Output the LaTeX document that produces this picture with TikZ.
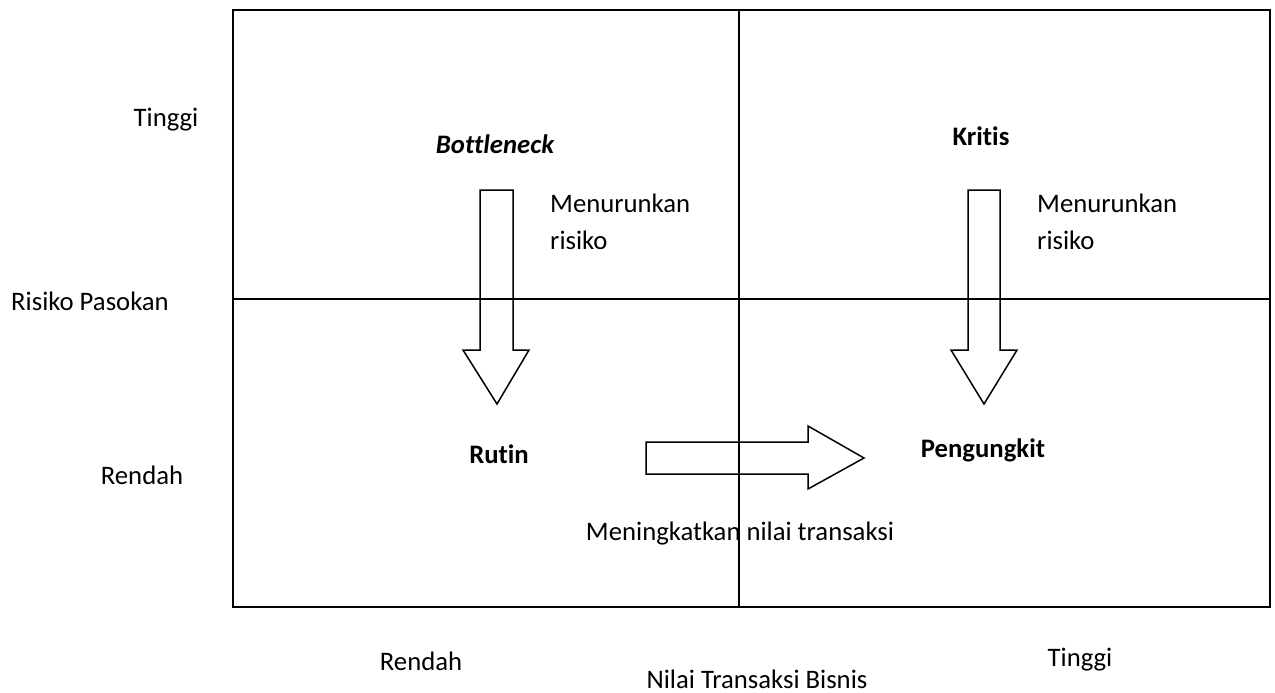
\documentclass[tikz,border=0pt]{standalone}
\usepackage{fontspec}
\setmainfont{Carlito}[Ligatures={NoCommon,NoDiscretionary,NoContextual}]
\begin{document}
\begin{tikzpicture}[x=1pt,y=-1pt,
  lbl/.style={inner sep=0pt,anchor=base,font=\fontsize{26.7}{31}\selectfont},
  lblL/.style={lbl,anchor=base west},
  bld/.style={lbl,font=\fontsize{26.7}{31}\selectfont\bfseries},
  frame/.style={line width=1.8pt,black},
  blockarrow/.style={line width=1.5pt,black,line join=miter}]
\useasboundingbox (0,0) rectangle (1275,693);
% frame and quadrant lines
\coordinate (tl) at (233,10);
\coordinate (br) at (1270,607);
\coordinate (vt) at (739,10);
\coordinate (vb) at (739,607);
\coordinate (hl) at (233,299);
\coordinate (hr) at (1270,299);
\draw[frame] (tl) rectangle (br);
\draw[frame] (vt) -- (vb);
\draw[frame] (hl) -- (hr);
% block arrows
\draw[blockarrow] (480,190) -- (513,190) -- (513,350) -- (529,350) -- (497,404) -- (463,350) -- (480,350) -- cycle;
\draw[blockarrow] (968,190) -- (1000,190) -- (1000,350) -- (1017,350) -- (984,404) -- (951,350) -- (968,350) -- cycle;
\draw[blockarrow] (646,442) -- (808,442) -- (808,426) -- (864,458) -- (808,489) -- (808,474) -- (646,474) -- cycle;
% axis labels
\node[lbl] (yhigh) at (166,126) {Tinggi};
\node[lbl] (yaxis) at (90,310) {Risiko Pasokan};
\node[lbl] (ylow) at (142,484) {Rendah};
\node[lbl] (xlow) at (421,670) {Rendah};
\node[lbl] (xaxis) at (757,688) {Nilai Transaksi Bisnis};
\node[lbl] (xhigh) at (1080,666) {Tinggi};
% quadrant labels
\node[bld,font=\fontsize{26.7}{31}\selectfont\bfseries\itshape] (bottleneck) at (495,153) {Bottleneck};
\node[bld] (kritis) at (981,145) {Kritis};
\node[bld] (rutin) at (499,463) {Rutin};
\node[bld] (pengungkit) at (983,457) {Pengungkit};
% arrow labels
\node[lblL] (m1a) at (550,212) {Menurunkan};
\node[lblL] (m1b) at (550,249) {risiko};
\node[lblL] (m2a) at (1037,212) {Menurunkan};
\node[lblL] (m2b) at (1037,249) {risiko};
\node[lbl] (naik) at (740,540) {Meningkatkan nilai transaksi};
\end{tikzpicture}
\end{document}
